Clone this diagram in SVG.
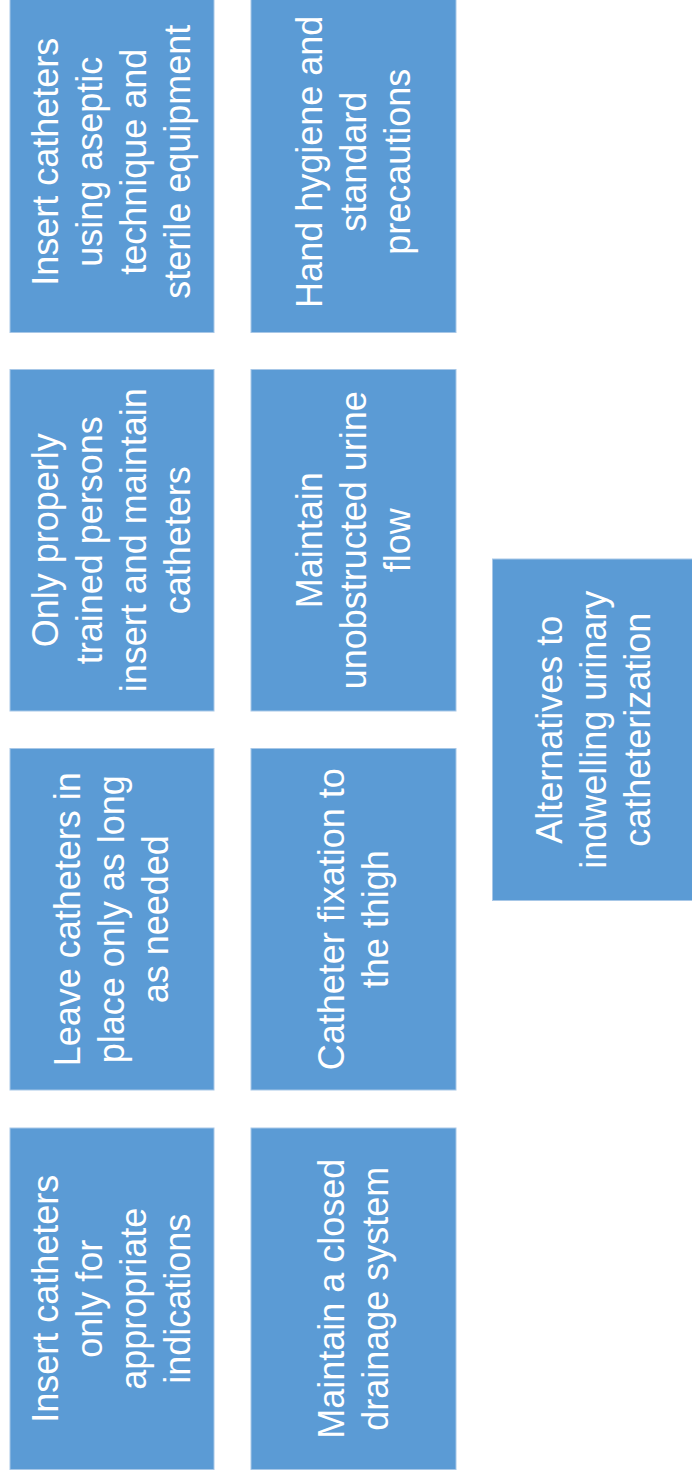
<svg xmlns="http://www.w3.org/2000/svg" width="692" height="1480" viewBox="0 0 692 1480">
<style>
.box{fill:#5B9BD5;stroke:#A7C7E7;stroke-width:1}
.t{font-family:"Liberation Sans",Arial,sans-serif;font-size:36px;fill:#FFFFFF;text-anchor:middle}
</style>
<rect width="692" height="1480" fill="#FFFFFF"/>
<g id="connectors"/>
<g id="n1">
<rect class="box" x="10" y="-9" width="204" height="341.5"/>
<text class="t" transform="rotate(-90 112 161.75)"><tspan x="112" y="107.75">Insert catheters</tspan><tspan x="112" y="151.75">using aseptic</tspan><tspan x="112" y="195.75">technique and</tspan><tspan x="112" y="239.75">sterile equipment</tspan></text>
</g>
<g id="n2">
<rect class="box" x="10" y="369.5" width="204" height="341.5"/>
<text class="t" transform="rotate(-90 112 540.25)"><tspan x="112" y="486.25">Only properly</tspan><tspan x="112" y="530.25">trained persons</tspan><tspan x="112" y="574.25">insert and maintain</tspan><tspan x="112" y="618.25">catheters</tspan></text>
</g>
<g id="n3">
<rect class="box" x="10" y="748.5" width="204" height="341.5"/>
<text class="t" transform="rotate(-90 112 919.25)"><tspan x="112" y="887.25">Leave catheters in</tspan><tspan x="112" y="931.25">place only as long</tspan><tspan x="112" y="975.25">as needed</tspan></text>
</g>
<g id="n4">
<rect class="box" x="10" y="1128" width="204" height="341.5"/>
<text class="t" transform="rotate(-90 112 1298.75)"><tspan x="112" y="1244.75">Insert catheters</tspan><tspan x="112" y="1288.75">only for</tspan><tspan x="112" y="1332.75">appropriate</tspan><tspan x="112" y="1376.75">indications</tspan></text>
</g>
<g id="n5">
<rect class="box" x="251" y="-9" width="205" height="341.5"/>
<text class="t" transform="rotate(-90 353.5 161.75)"><tspan x="353.5" y="129.75">Hand hygiene and</tspan><tspan x="353.5" y="173.75">standard</tspan><tspan x="353.5" y="217.75">precautions</tspan></text>
</g>
<g id="n6">
<rect class="box" x="251" y="369.5" width="205" height="341.5"/>
<text class="t" transform="rotate(-90 353.5 540.25)"><tspan x="353.5" y="508.25">Maintain</tspan><tspan x="353.5" y="552.25">unobstructed urine</tspan><tspan x="353.5" y="596.25">flow</tspan></text>
</g>
<g id="n7">
<rect class="box" x="251" y="748.5" width="205" height="341.5"/>
<text class="t" transform="rotate(-90 353.5 919.25)"><tspan x="353.5" y="909.25">Catheter fixation to</tspan><tspan x="353.5" y="953.25">the thigh</tspan></text>
</g>
<g id="n8">
<rect class="box" x="251" y="1128" width="205" height="341.5"/>
<text class="t" transform="rotate(-90 353.5 1298.75)"><tspan x="353.5" y="1288.75">Maintain a closed</tspan><tspan x="353.5" y="1332.75">drainage system</tspan></text>
</g>
<g id="n9">
<rect class="box" x="492.5" y="559" width="205" height="341.5"/>
<text class="t" transform="rotate(-90 594 729.75)"><tspan x="594" y="697.75">Alternatives to</tspan><tspan x="594" y="741.75">indwelling urinary</tspan><tspan x="594" y="785.75">catheterization</tspan></text>
</g>
</svg>
